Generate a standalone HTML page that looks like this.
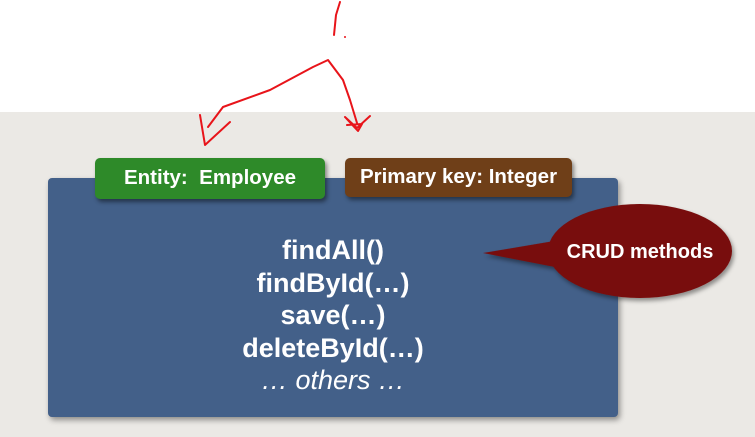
<!DOCTYPE html>
<html><head><meta charset="utf-8"><style>
body{margin:0;width:755px;height:437px;overflow:hidden;background:#fff;position:relative;font-family:"Liberation Sans",sans-serif}
.bg{position:absolute;left:0;top:112px;width:755px;height:325px;background:#ebe9e5}
.box{position:absolute;left:48px;top:178px;width:570px;height:239px;background:#436089;border-radius:4px;box-shadow:2px 3px 6px rgba(0,0,0,.4)}
.tab{position:absolute;color:#fff;font-weight:bold;font-size:20.5px;text-align:center;border-radius:5px;box-shadow:2px 3px 4px rgba(0,0,0,.45)}
.lines{position:absolute;left:133px;width:400px;text-align:center;color:#fff;font-weight:bold;font-size:27px;line-height:32.5px;top:234px}
</style></head><body>
<div class="bg"></div>
<div class="box"></div>
<div class="tab" style="left:95px;top:158px;width:230px;height:41px;line-height:39px;background:#2e8a29">Entity:&nbsp; Employee</div>
<div class="tab" style="left:345px;top:158px;width:227px;height:39px;line-height:38px;background:#6f3f18">Primary key: Integer</div>
<div class="lines">findAll()<br>findById(…)<br>save(…)<br>deleteById(…)<br><span style="font-weight:normal;font-style:italic">… others …</span></div>
<svg width="755" height="437" style="position:absolute;left:0;top:0">
<defs><filter id="s"><feDropShadow dx="2" dy="3" stdDeviation="2" flood-opacity=".4"/></filter></defs>
<g filter="url(#s)" fill="#780e0c">
<ellipse cx="640" cy="251" rx="92" ry="47"/>
<polygon points="483,253 560,240 560,268"/>
</g>
<text x="640" y="258" fill="#fff" font-family="Liberation Sans" font-weight="bold" font-size="20" text-anchor="middle">CRUD methods</text>
<g stroke="#e8141a" stroke-width="2" fill="none" stroke-linecap="round" stroke-linejoin="round">
<path d="M340,2 L336,15 L334,35"/>
<path d="M208,127 L223,107 L270,90 L313,67 L328,60 L343,80 L350,100 L357,123"/>
<path d="M200,115 L205,145 L230,122"/>
<path d="M345,117 L357,128 L370,116 M345,117 L358,131 L362,124 L347,125"/>
</g>
<circle cx="345" cy="37" r="1" fill="#e8141a"/>
</svg>
</body></html>
